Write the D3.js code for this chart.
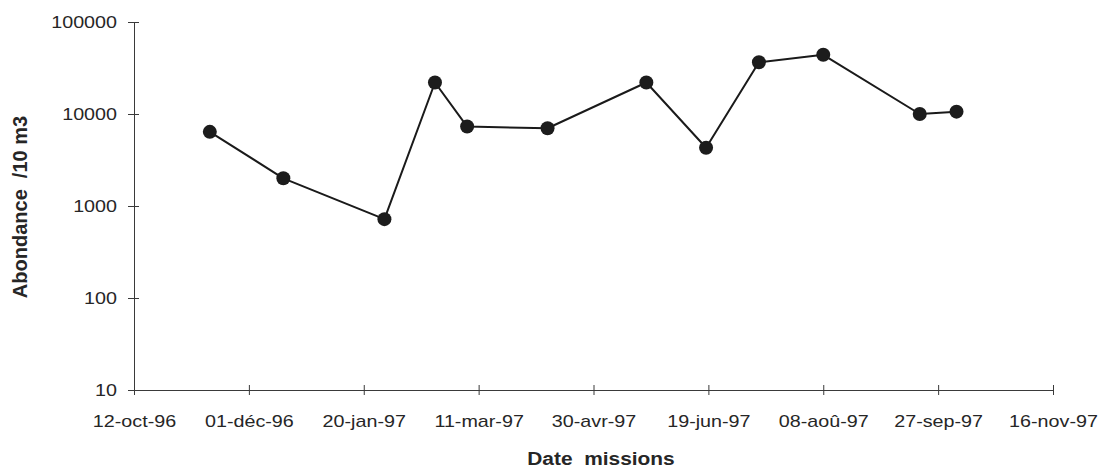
<!DOCTYPE html>
<html>
<head>
<meta charset="utf-8">
<script src="https://cdn.jsdelivr.net/npm/d3@7"></script>
<style>
  html, body { margin: 0; padding: 0; background: #fff; }
  svg { display: block; }
  text { font-family: "Liberation Sans", Arial, sans-serif; fill: #262626; }
</style>
</head>
<body>
<svg id="chart" width="1114" height="472"></svg>
<script>
// Sampling dates of each mission and abundance per 10 m3
const missionDates = [
  "1996-11-14", "1996-12-16", "1997-01-29", "1997-02-20", "1997-03-06", "1997-04-10",
  "1997-05-23", "1997-06-18", "1997-07-11", "1997-08-08", "1997-09-19", "1997-10-05"
];
const abundance = [6400, 2000, 720, 22000, 7300, 7000, 22000, 4300, 36500, 44000, 10000, 10600];

// Axis ticks
const xTickDates = [
  "1996-10-12", "1996-12-01", "1997-01-20", "1997-03-11", "1997-04-30",
  "1997-06-19", "1997-08-08", "1997-09-27", "1997-11-16"
];
const xTickLabels = [
  "12-oct-96", "01-déc-96", "20-jan-97", "11-mar-97", "30-avr-97",
  "19-jun-97", "08-aoû-97", "27-sep-97", "16-nov-97"
];
const yTickValues = [10, 100, 1000, 10000, 100000];
const yTickLabels = ["10", "100", "1000", "10000", "100000"];

const parse = d3.utcParse("%Y-%m-%d");
const svg = d3.select("#chart");

const plotLeft = 134, plotRight = 1053, plotTop = 22, plotBottom = 390;

const x = d3.scaleUtc()
  .domain([parse(xTickDates[0]), parse(xTickDates[xTickDates.length - 1])])
  .range([plotLeft, plotRight]);
const y = d3.scaleLog()
  .domain([10, 100000])
  .range([plotBottom, plotTop]);

const axisColor = "#3a3a3a";
const textScale = 1.16;

// X axis with crossing ticks
const xAxis = d3.axisBottom(x)
  .tickValues(xTickDates.map(parse))
  .tickSizeInner(0).tickSizeOuter(0)
  .tickFormat((d, i) => xTickLabels[i]);
const gx = svg.append("g").attr("transform", `translate(0,${plotBottom})`).call(xAxis);
gx.select(".domain").attr("stroke", axisColor).attr("stroke-width", 1);
gx.selectAll(".tick line").attr("y1", -5).attr("y2", 5).attr("stroke", axisColor);
gx.selectAll(".tick text")
  .attr("y", 0).attr("dy", null)
  .attr("transform", `translate(0,37) scale(${textScale},1)`)
  .style("font-size", "17px")
  .style("font-family", "'Liberation Sans', Arial, sans-serif")
  .attr("fill", "#2a2a2a");

// Y axis with crossing ticks
const yAxis = d3.axisLeft(y)
  .tickValues(yTickValues)
  .tickSizeInner(0).tickSizeOuter(0)
  .tickFormat((d, i) => yTickLabels[i]);
const gy = svg.append("g").attr("transform", `translate(${plotLeft},0)`).call(yAxis);
gy.select(".domain").attr("stroke", axisColor).attr("stroke-width", 1);
gy.selectAll(".tick line").attr("x1", -6).attr("x2", 5).attr("stroke", axisColor);
gy.selectAll(".tick text")
  .attr("x", 0).attr("dy", "0.35em")
  .attr("transform", `translate(-17,0) scale(${textScale},1)`)
  .style("font-size", "17px")
  .style("font-family", "'Liberation Sans', Arial, sans-serif")
  .attr("fill", "#2a2a2a");

// Axis titles
svg.append("text")
  .attr("transform", `translate(601,465) scale(1.1,1)`)
  .attr("text-anchor", "middle")
  .style("font-size", "19px")
  .style("font-weight", "bold")
  .style("white-space", "pre")
  .text("Date  missions");

svg.append("text")
  .attr("transform", "translate(27,207) rotate(-90)")
  .attr("text-anchor", "middle")
  .style("font-size", "20px")
  .style("font-weight", "bold")
  .style("white-space", "pre")
  .text("Abondance  /10 m3");

// Series line and markers
const points = missionDates.map((d, i) => ({ date: parse(d), value: abundance[i] }));

svg.append("path")
  .datum(points)
  .attr("fill", "none")
  .attr("stroke", "#1a1a1a")
  .attr("stroke-width", 2)
  .attr("stroke-linejoin", "round")
  .attr("d", d3.line().x(d => x(d.date)).y(d => y(d.value)));

svg.append("g")
  .selectAll("circle")
  .data(points)
  .join("circle")
  .attr("cx", d => x(d.date))
  .attr("cy", d => y(d.value))
  .attr("r", 7)
  .attr("fill", "#1c1c1c");
</script>
</body>
</html>
